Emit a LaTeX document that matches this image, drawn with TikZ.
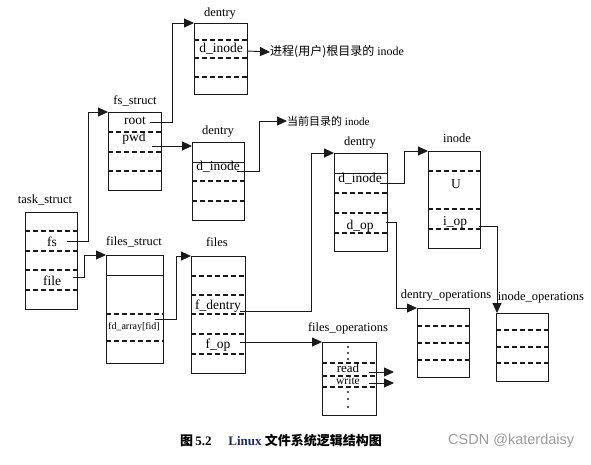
\documentclass[tikz,border=0pt]{standalone}
\usepackage{fontspec}
\setmainfont{Liberation Serif}
\newfontfamily\cjk{Noto Sans CJK SC}
\newfontfamily\wmfont{Liberation Sans}
\usetikzlibrary{arrows.meta}
\definecolor{ink}{HTML}{1A1A1A}
\definecolor{navy}{HTML}{1F2A5A}
\definecolor{wmgray}{HTML}{9A9A9A}
\begin{document}
\begin{tikzpicture}[x=1pt,y=-1pt,
 box/.style={draw=ink, line width=1pt, anchor=north west, inner sep=0, outer sep=0},
 dl/.style={draw=ink, line width=1.1pt, dash pattern=on 5pt off 3pt},
 sl/.style={draw=ink, line width=0.9pt},
 lbl/.style={inner sep=0, font=\fontsize{12.5}{13}\selectfont},
 fld/.style={inner sep=0, font=\fontsize{13.5}{14}\selectfont},
 arr/.style={draw=ink, line width=0.9pt, -{Triangle[length=10pt,width=9pt]}},
 dotm/.style={circle, fill=ink, inner sep=0, minimum size=2.2pt}
]
\useasboundingbox[fill=white] (0,0) rectangle (591,464);

% ---------- dentry 1
\node[box, minimum width=53pt, minimum height=71pt] (d1) at (194,23) {};
\node[lbl] (d1l) at (220,14) {dentry};
\foreach \yy in {40,58,77} \draw[dl] (194,\yy) -- (247,\yy);
\node[fld] (d1i) at (221,49) {d\_inode};
\node[inner sep=0, anchor=west, font=\fontsize{12}{13}\selectfont] (t1) at (270,52) {{\cjk 进程(用户)根目录的} inode};

% ---------- fs_struct
\node[box, minimum width=53pt, minimum height=78pt] (fs) at (108,112) {};
\node[lbl] (fsl) at (135,101) {fs\_struct};
\foreach \yy in {132,152,171} \draw[dl] (108,\yy) -- (161,\yy);
\node[fld] (root) at (135,121) {root};
\node[fld] (pwd) at (134,138) {pwd};

% ---------- dentry 2
\node[box, minimum width=52pt, minimum height=78pt] (d2) at (192,142) {};
\node[lbl] (d2l) at (218,132) {dentry};
\draw[sl] (192,162) -- (244,162);
\foreach \yy in {181,201} \draw[dl] (192,\yy) -- (244,\yy);
\node[fld] (d2i) at (218,167) {d\_inode};
\node[inner sep=0, anchor=west, font=\fontsize{11}{12}\selectfont] (t2) at (287,121) {{\cjk 当前目录的} inode};

% ---------- task_struct
\node[box, minimum width=52pt, minimum height=97pt] (ts) at (25,212) {};
\node[lbl] (tsl) at (45,200) {task\_struct};
\foreach \yy in {231,251,270,290} \draw[dl] (25,\yy) -- (77,\yy);
\node[fld] (tfs) at (52,242) {fs};
\node[fld] (tfile) at (52,281) {file};

% ---------- files_struct
\node[box, minimum width=57pt, minimum height=108pt] (fst) at (106,255) {};
\node[lbl] (fstl) at (134,242) {files\_struct};
\draw[sl] (106,275) -- (163,275);
\foreach \yy in {314,341} \draw[dl] (106,\yy) -- (163,\yy);
\node[inner sep=0, font=\fontsize{10}{11}\selectfont] (fda) at (134,327) {fd\_array[fid]};

% ---------- files
\node[box, minimum width=54pt, minimum height=117pt] (fi) at (191,256) {};
\node[lbl] (fil) at (217,242) {files};
\foreach \yy in {276,295,314,334,354} \draw[dl] (191,\yy) -- (245,\yy);
\node[fld] (fden) at (218,306) {f\_dentry};
\node[fld] (fop) at (218,345) {f\_op};

% ---------- dentry 3
\node[box, minimum width=53pt, minimum height=98pt] (d3) at (334,153) {};
\node[lbl] (d3l) at (360,143) {dentry};
\draw[sl] (334,173) -- (387,173);
\foreach \yy in {193,213,233} \draw[dl] (334,\yy) -- (387,\yy);
\node[fld] (d3i) at (360,179) {d\_inode};
\node[fld] (d3o) at (360,226) {d\_op};

% ---------- inode
\node[box, minimum width=52pt, minimum height=97pt] (in) at (428,151) {};
\node[lbl] (inl) at (457,138) {inode};
\foreach \yy in {171,209,229} \draw[dl] (428,\yy) -- (480,\yy);
\node[fld] (inu) at (456,184) {U};
\node[fld] (iop) at (455,222) {i\_op};

% ---------- dentry_operations
\node[box, minimum width=52pt, minimum height=69pt] (dops) at (417,308) {};
\node[lbl] (dopsl) at (446,296) {dentry\_operations};
\foreach \yy in {326,343,360} \draw[dl] (417,\yy) -- (469,\yy);

% ---------- inode_operations
\node[box, minimum width=52pt, minimum height=68pt] (iops) at (496,313) {};
\node[lbl] (iopsl) at (541,297) {inode\_operations};
\foreach \yy in {330,347,363} \draw[dl] (496,\yy) -- (548,\yy);

% ---------- files_operations
\node[box, minimum width=54pt, minimum height=73pt] (fops) at (322,342) {};
\node[lbl] (fopsl) at (348,328) {files\_operations};
\foreach \yy in {363,376,387} \draw[dl] (322,\yy) -- (376,\yy);
\foreach \yy in {347,353,359,392,399,407} \node[dotm] at (348,\yy) {};
\node[inner sep=0, font=\fontsize{13}{14}\selectfont] (rd) at (348,368) {read};
\node[inner sep=0, font=\fontsize{11.5}{12}\selectfont] (wr) at (348,381) {write};

% ---------- connector start / free-end points
\coordinate (cRoot) at (150,122);
\coordinate (cPwd) at (152,146);
\coordinate (cD1) at (247,51);
\coordinate (cD2) at (237,171);
\coordinate (cFs) at (67,241);
\coordinate (cFile) at (73,277);
\coordinate (cFda) at (155,319);
\coordinate (cFden) at (240,311);
\coordinate (cFop) at (240,342);
\coordinate (cD3i) at (380,183);
\coordinate (cD3o) at (386,222);
\coordinate (cIop) at (479,226);
\coordinate (cRd) at (369,372);
\coordinate (eRd) at (394,372);
\coordinate (cWr) at (369,383);
\coordinate (eWr) at (394,383);

% ---------- connectors
\draw[arr] (cRoot) -- ++(22,0) |- (d1.north west);
\draw[arr] (cPwd) -- ([yshift=-4pt]d2.north west);
\draw[arr] (cD1) -- (t1.west);
\draw[arr] (cD2) -- ++(22,0) |- (t2.west);
\draw[arr] (cFs) -- ++(21,0) |- (fs.north west);
\draw[arr] (cFile) -- ++(11,0) |- (fst.north west);
\draw[arr] (cFda) -- ++(21,0) |- (fi.north west);
\draw[arr] (cFden) -- ++(71,0) |- (d3.north west);
\draw[arr] (cFop) -- (fops.north west);
\draw[arr] (cD3i) -- ++(24,0) |- (in.north west);
\draw[arr] (cD3o) -- ++(10,0) |- (dops.north west);
\draw[arr] (cIop) -| ([xshift=1pt]iops.north west);
\draw[arr] (cRd) -- (eRd);
\draw[arr] (cWr) -- (eWr);

% ---------- caption
\node[inner sep=0, font=\bfseries\fontsize{13}{14}\selectfont] (cap) at (281,441)
  {{\cjk 图}\,5.2\hspace{1.3em}{\color{navy}Linux}\ {\cjk 文件系统逻辑结构图}};
\node[inner sep=0, anchor=west, font=\wmfont\fontsize{14.5}{15}\selectfont, text=wmgray] (wm) at (448,441) {CSDN @katerdaisy};
\end{tikzpicture}
\end{document}
